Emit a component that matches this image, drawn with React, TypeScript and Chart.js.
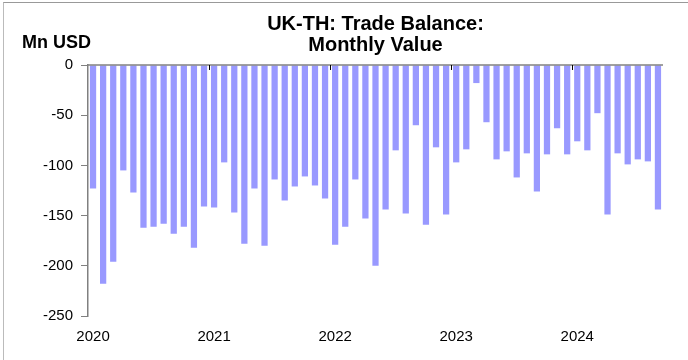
import React, { useEffect, useRef } from "react";
import { Chart, registerables } from "chart.js";

Chart.register(...registerables);

const years = ["2020", "2021", "2022", "2023", "2024"];
const lastYearMonths = 9;

const balance2020 = [-123, -218, -196, -105, -127, -162, -161, -158, -168, -161, -182, -141];
const balance2021 = [-142, -97, -147, -178, -123, -180, -114, -135, -121, -111, -120, -133];
const balance2022 = [-179, -161, -114, -153, -200, -144, -85, -148, -60, -159, -82, -149];
const balance2023 = [-97, -84, -18, -57, -94, -86, -112, -88, -126, -89, -63, -89];
const balance2024 = [-76, -85, -48, -149, -88, -99, -94, -96, -144];

const titleLines = ["UK-TH: Trade Balance:", "Monthly Value"];
const unitLabel = "Mn USD";

const yMin = -250;
const yMax = 0;
const yStep = 50;

const values = [...balance2020, ...balance2021, ...balance2022, ...balance2023, ...balance2024];
const labels: string[] = [];
years.forEach((y, yi) => {
  const n = yi === years.length - 1 ? lastYearMonths : 12;
  for (let m = 1; m <= n; m++) labels.push(`${y}-${String(m).padStart(2, "0")}`);
});

const FONT = "'Liberation Sans', Arial, Helvetica, sans-serif";
const AXIS = "#808080";

const decorPlugin = {
  id: "decor",
  afterDraw(chart: any) {
    const { ctx, chartArea, scales } = chart;
    const x = scales.x;
    const y = scales.y;
    ctx.save();
    // zero line
    const y0 = y.getPixelForValue(0);
    ctx.strokeStyle = AXIS;
    ctx.lineWidth = 1.5;
    ctx.beginPath();
    ctx.moveTo(chartArea.left, y0);
    ctx.lineTo(chartArea.right, y0);
    ctx.stroke();
    // year boundary ticks
    ctx.strokeStyle = "#000";
    ctx.lineWidth = 1;
    labels.forEach((l, i) => {
      if (i > 0 && l.endsWith("-01")) {
        const px = Math.round((x.getPixelForValue(i - 1) + x.getPixelForValue(i)) / 2) + 0.5;
        ctx.beginPath();
        ctx.moveTo(px, y0);
        ctx.lineTo(px, y0 + 5);
        ctx.stroke();
      }
    });
    // title
    ctx.fillStyle = "#000";
    ctx.textAlign = "center";
    ctx.textBaseline = "middle";
    ctx.font = `bold 20px ${FONT}`;
    const cx = (chartArea.left + chartArea.right) / 2;
    ctx.fillText(titleLines[0], cx, 24);
    ctx.fillText(titleLines[1], cx, 45);
    // unit
    ctx.textAlign = "left";
    ctx.font = `bold 18px ${FONT}`;
    ctx.fillText(unitLabel, 22, 43);
    ctx.restore();
  },
};

export default function App() {
  const ref = useRef<HTMLCanvasElement | null>(null);
  useEffect(() => {
    document.body.style.margin = "0";
    if (!ref.current) return;
    const chart = new Chart(ref.current, {
      type: "bar",
      data: {
        labels,
        datasets: [
          {
            data: values,
            backgroundColor: "#9999FF",
            borderWidth: 0,
            barPercentage: 0.62,
            categoryPercentage: 1.0,
          },
        ],
      },
      options: {
        animation: false,
        responsive: false,
        devicePixelRatio: 1,
        layout: { padding: { left: 0, right: 25, top: 65, bottom: 0 } },
        plugins: { legend: { display: false }, tooltip: { enabled: false } },
        scales: {
          x: {
            offset: true,
            grid: { display: false, drawTicks: false },
            border: { display: false },
            ticks: {
              autoSkip: false,
              maxRotation: 0,
              minRotation: 0,
              padding: 12,
              color: "#000",
              font: { family: FONT, size: 15 },
              callback: (_v: any, i: number) => (labels[i].endsWith("-01") ? labels[i].slice(0, 4) : ""),
            },
            afterFit: (s: any) => {
              s.height = 44;
            },
          },
          y: {
            min: yMin,
            max: yMax,
            grid: { drawOnChartArea: false, drawTicks: true, tickLength: 7, color: AXIS },
            border: { display: true, color: AXIS, width: 1.5 },
            ticks: {
              stepSize: yStep,
              padding: 8,
              color: "#000",
              font: { family: FONT, size: 15 },
            },
            afterFit: (s: any) => {
              s.width = 88;
            },
          },
        },
      },
      plugins: [decorPlugin],
    });
    return () => chart.destroy();
  }, []);
  return (
    <div style={{ position: "relative", width: 688, height: 360, background: "#fff" }}>
      <div
        style={{
          position: "absolute",
          left: 3,
          top: 2,
          right: 0,
          bottom: 0,
          borderTop: "1px solid #999",
          borderLeft: "1px solid #bbb",
          pointerEvents: "none",
        }}
      />
      <canvas ref={ref} width={688} height={360} style={{ display: "block" }} />
    </div>
  );
}
